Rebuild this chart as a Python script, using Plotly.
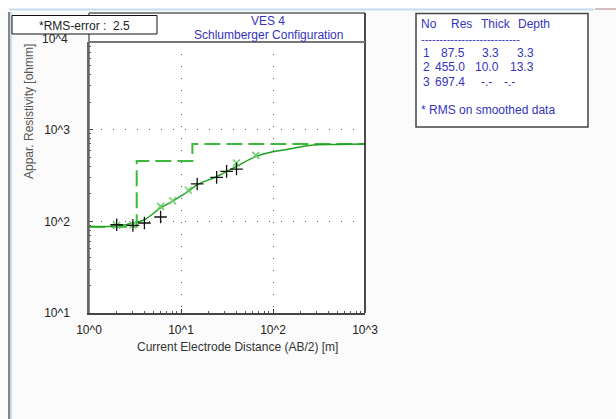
import plotly.graph_objects as go

# ---------------- data ----------------
# measured apparent resistivity (black +)
obs_ab2 = [2.0, 3.0, 4.0, 6.0, 15.0, 24.4, 31.3, 40.1]
obs_rho = [91.8, 90.4, 95.9, 111.5, 256, 302, 351, 372]

# smoothed data (green x)
smo_ab2 = [2.0, 3.0, 6.0, 8.1, 12.0, 40.1, 65.0]
smo_rho = [90.0, 92.0, 145.6, 168, 218, 433, 525]

# calculated model curve (solid green)
cal_ab2 = [1.0, 2.0, 3.3, 4.0, 6.0, 8.0, 12.0, 15.0, 24.0, 40.0, 66.0, 100.0, 150.0, 250.0, 500.0, 1000.0]
cal_rho = [87.6, 89.0, 98.0, 104, 140, 165, 212, 251, 305, 398, 512, 575, 616, 674, 690, 697]

# layered model (dashed step)
layer_res = [87.5, 455.0, 697.4]
layer_thick = [3.3, 10.0]
layer_depth = [3.3, 13.3]

x_ticks = [1, 10, 100, 1000]
x_ticktext = ["10^0", "10^1", "10^2", "10^3"]
y_ticks = [10, 100, 1000]
y_ticktext = ["10^1", "10^2", "10^3"]

# step line for the layered model built from the layer table
step_x = [1.0]
step_y = [layer_res[0]]
for i, d in enumerate(layer_depth):
    step_x += [d, d]
    step_y += [layer_res[i], layer_res[i + 1]]
step_x.append(1000.0)
step_y.append(layer_res[-1])

# ---------------- geometry helpers ----------------
W, H = 616, 419
L, R, T, B = 89, 365, 42, 313
PW, PH = R - L, B - T


def px(x):
    return (x - L) / PW


def py(y):
    return (B - y) / PH


FONT = "Arial, Liberation Sans, sans-serif"
BLUE = "#3434bc"

fig = go.Figure()

fig.add_trace(go.Scatter(x=step_x, y=step_y, mode="lines",
                         line=dict(color="#3fb83f", width=2, dash="16px,6px"),
                         hoverinfo="skip", showlegend=False))
fig.add_trace(go.Scatter(x=cal_ab2, y=cal_rho, mode="lines",
                         line=dict(color="#1fa31f", width=1.5, shape="spline"),
                         showlegend=False))
fig.add_trace(go.Scatter(x=smo_ab2, y=smo_rho, mode="markers",
                         marker=dict(symbol="x-thin", size=7, color="#6ccc6c",
                                     line=dict(color="#6ccc6c", width=1.5)),
                         showlegend=False))
fig.add_trace(go.Scatter(x=obs_ab2, y=obs_rho, mode="markers",
                         marker=dict(symbol="cross-thin", size=9, color="#111",
                                     line=dict(color="#111", width=1.3)),
                         showlegend=False))

minor_x = [m * 10 ** k for k in range(0, 3) for m in range(2, 10)]
minor_y = [m * 10 ** k for k in range(1, 4) for m in range(2, 10)]

fig.update_xaxes(type="log", range=[0, 3], tickvals=x_ticks, ticktext=x_ticktext,
                 ticks="inside", ticklen=4, tickcolor="#444",
                 showline=True, linecolor="#444", linewidth=1.5,
                 showgrid=True, gridcolor="#555", griddash="1px,11px", gridwidth=1,
                 minor=dict(tickvals=minor_x, ticks="inside", ticklen=2, tickcolor="#555", showgrid=False),
                 tickfont=dict(family=FONT, size=12, color="#222"),
                 ticklabelstandoff=5, zeroline=False, fixedrange=True)
fig.update_yaxes(type="log", range=[1, 1 + PH / 91.65], tickvals=y_ticks, ticktext=y_ticktext,
                 ticks="inside", ticklen=4, tickcolor="#444",
                 showline=True, linecolor="#666", linewidth=1.5,
                 showgrid=True, gridcolor="#555", griddash="1px,11px", gridwidth=1,
                 minor=dict(tickvals=minor_y, ticks="inside", ticklen=2, tickcolor="#555", showgrid=False),
                 tickfont=dict(family=FONT, size=12, color="#222"),
                 ticklabelstandoff=15, zeroline=False, fixedrange=True)

shapes = []
# window decoration
shapes.append(dict(type="rect", xref="paper", yref="paper", x0=px(0), x1=px(W), y0=py(0), y1=py(9),
                   fillcolor="white", line=dict(width=0), layer="below"))
shapes.append(dict(type="line", xref="paper", yref="paper", x0=px(9), x1=px(594), y0=py(9.5), y1=py(9.5),
                   line=dict(color="#c9dbee", width=2)))
shapes.append(dict(type="line", xref="paper", yref="paper", x0=px(595), x1=px(616), y0=py(9), y1=py(9),
                   line=dict(color="#b08080", width=1)))
shapes.append(dict(type="line", xref="paper", yref="paper", x0=px(9), x1=px(9), y0=py(12), y1=py(419),
                   line=dict(color="#111", width=1)))
shapes.append(dict(type="line", xref="paper", yref="paper", x0=px(11), x1=px(11), y0=py(12), y1=py(419),
                   line=dict(color="#c9dbee", width=2)))
# title box above plot
shapes.append(dict(type="rect", xref="paper", yref="paper", x0=px(L), x1=px(R), y0=py(42), y1=py(13),
                   fillcolor="white", line=dict(width=0), layer="below"))
shapes.append(dict(type="line", xref="paper", yref="paper", x0=px(L), x1=px(R), y0=py(13), y1=py(13),
                   line=dict(color="#111", width=1)))
shapes.append(dict(type="line", xref="paper", yref="paper", x0=px(L), x1=px(L), y0=py(13), y1=py(B),
                   line=dict(color="#666", width=1.5)))
shapes.append(dict(type="line", xref="paper", yref="paper", x0=px(R), x1=px(R), y0=py(13), y1=py(B),
                   line=dict(color="#111", width=1.5)))
shapes.append(dict(type="line", xref="paper", yref="paper", x0=px(L), x1=px(R), y0=py(42), y1=py(42),
                   line=dict(color="#777", width=2)))
# RMS box
shapes.append(dict(type="rect", xref="paper", yref="paper", x0=px(12), x1=px(157), y0=py(34), y1=py(15.5),
                   fillcolor="white", line=dict(color="#111", width=1)))
# table box
shapes.append(dict(type="rect", xref="paper", yref="paper", x0=px(416), x1=px(588), y0=py(127), y1=py(13.5),
                   fillcolor="white", line=dict(color="#444", width=1.5)))

ann = []


def text(x, y, s, size=12, color="#222", xanchor="left", angle=0):
    ann.append(dict(xref="paper", yref="paper", x=px(x), y=py(y), text=s, showarrow=False,
                    xanchor=xanchor, yanchor="middle", textangle=angle,
                    font=dict(family=FONT, size=size, color=color)))


text(84.5, 26, "*RMS-error :  2.5", xanchor="center")
text(268, 21, "VES 4", color=BLUE, xanchor="center")
text(268, 35, "Schlumberger Configuration", color=BLUE, xanchor="center")
text(70, 38.5, "10^4", xanchor="right")
text(237.5, 346.5, "Current Electrode Distance (AB/2) [m]", color="#333", xanchor="center")
text(29, 112, "Appar. Resistivity [ohmm]", color="#555", xanchor="center", angle=-90)

# layer table
text(419, 24, "No", color=BLUE)
text(449, 24, "Res", color=BLUE)
text(479, 24, "Thick", color=BLUE)
text(516, 24, "Depth", color=BLUE)
text(419, 39, "-" * 27, size=11, color=BLUE)
row_y = [52.5, 67, 81.5]
for i, res in enumerate(layer_res):
    y = row_y[i]
    text(426, y, str(i + 1), color=BLUE, xanchor="center")
    text(467, y, f"{res:.1f}", color=BLUE, xanchor="right")
    th = f"{layer_thick[i]:.1f}" if i < len(layer_thick) else "-.-"
    dp = f"{layer_depth[i]:.1f}" if i < len(layer_depth) else "-.-"
    text(501 if i < len(layer_thick) else 494, y, th, color=BLUE, xanchor="right")
    text(536 if i < len(layer_depth) else 517, y, dp, color=BLUE, xanchor="right")
text(419, 110, "* RMS on smoothed data", color=BLUE)

fig.update_layout(width=W, height=H, margin=dict(l=L, r=W - R, t=T, b=H - B, pad=0),
                  paper_bgcolor="#fbfbfb", plot_bgcolor="white",
                  shapes=shapes, annotations=ann, showlegend=False)

fig.write_html("out.html")
